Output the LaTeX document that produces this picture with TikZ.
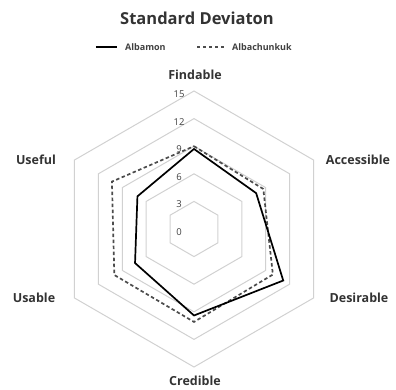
\documentclass[tikz,border=0pt]{standalone}
\usepackage{fontspec}
\setmainfont{Open Sans}
\usetikzlibrary{positioning}
\usetikzlibrary{calc}
\tikzset{hex/.style={draw=black!18, line width=1pt}}
\tikzset{tck/.style={font=\fontsize{9.5}{10}\selectfont, text=black!75, inner sep=0pt}}
\tikzset{axl/.style={font=\fontsize{12.5}{13}\selectfont\bfseries, text=black!80, inner sep=0pt}}
\tikzset{lgd/.style={font=\fontsize{9}{9}\selectfont\bfseries, text=black!75, inner sep=0pt}}
\tikzset{amon/.style={draw=black, line width=1.7pt, line join=miter}}
\tikzset{achk/.style={draw=black!70, line width=1.7pt, dash pattern=on 3.5pt off 2.5pt}}

\begin{document}
\begin{tikzpicture}[x=1pt, y=1pt]
\useasboundingbox (-194,229) rectangle (202,-160);

%%% grid
\foreach \k in {1,...,5}
  \draw[hex] (90:\k*27.6) -- (30:\k*27.6) -- (-30:\k*27.6) -- (-90:\k*27.6)
    -- (-150:\k*27.6) -- (150:\k*27.6) -- cycle;

\foreach \k in {0,...,5} {
  \pgfmathtruncatemacro{\v}{3*\k}
  \node[tck] (t\k) at (-15, \k*27.6 - 3) {\v};
}

%%% axis labels
\node[axl] (find) at (1, 154) {Findable};
\node[axl] (acc) at (164, 69) {Accessible};
\node[axl] (des) at (165, -69) {Desirable};
\node[axl] (cred) at (1, -152) {Credible};
\node[axl] (usab) at (-160, -69) {Usable};
\node[axl] (usef) at (-158, 69) {Useful};

%%% title and legend
\node[font=\fontsize{16.5}{17}\selectfont\bfseries, text=black!80] (title) at (3, 211) {Standard Deviaton};
\coordinate (l1a) at (-98, 182);
\coordinate (l1b) at (-77, 182);
\coordinate (l2a) at (3, 182);
\coordinate (l2b) at (31, 182);
\draw[amon] (l1a) -- (l1b);
\node[lgd, right = 8 of l1b] (lamon) {Albamon};
\draw[achk, line width=1.1pt, dash pattern=on 3pt off 3pt] (l2a) -- (l2b);
\node[lgd, right = 7 of l2b] (lachk) {Albachunkuk};

%%% data (value * 9.2)
\coordinate (a1) at (90:8.7*9.2);
\coordinate (a2) at (30:7.8*9.2);
\coordinate (a3) at (-30:11.2*9.2);
\coordinate (a4) at (-90:9.4*9.2);
\coordinate (a5) at (-150:7.4*9.2);
\coordinate (a6) at (150:7.1*9.2);

\coordinate (b1) at (90:9.0*9.2);
\coordinate (b2) at (30:8.7*9.2);
\coordinate (b3) at (-30:9.9*9.2);
\coordinate (b4) at (-90:10.1*9.2);
\coordinate (b5) at (-150:10.0*9.2);
\coordinate (b6) at (150:10.3*9.2);

\draw[achk] (b1) -- (b2) -- (b3) -- (b4) -- (b5) -- (b6) -- cycle;
\draw[amon] (a1) -- (a2) -- (a3) -- (a4) -- (a5) -- (a6) -- cycle;

\end{tikzpicture}
\end{document}
